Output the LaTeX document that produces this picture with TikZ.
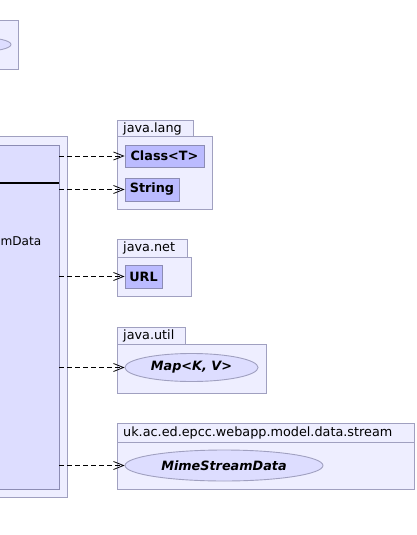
\documentclass[tikz,border=0pt]{standalone}
\usepackage{fontspec}
\setmainfont{DejaVu Sans}
\usetikzlibrary{arrows.meta,shapes.geometric}
\definecolor{pkgfill}{HTML}{EEEEFF}
\definecolor{pkgline}{HTML}{A0A0C0}
\definecolor{clsfill}{HTML}{DDDDFF}
\definecolor{extfill}{HTML}{BBBBFF}
\definecolor{clsline}{HTML}{8C8CB4}
\tikzset{
  pkgbox/.style={draw=pkgline, fill=pkgfill, line width=0.9pt},
  extcls/.style={draw=clsline, fill=extfill, line width=0.9pt, rectangle, inner sep=0pt,
    font=\fontsize{12.8}{14}\selectfont\bfseries},
  iface/.style={draw=pkgline, fill=clsfill, line width=0.9pt, ellipse, inner sep=0pt,
    font=\fontsize{12.8}{14}\selectfont\bfseries\itshape},
  pkglabel/.style={anchor=west, inner sep=0pt, font=\fontsize{12.8}{14}\selectfont},
  dep/.style={draw=black, line width=0.8pt, dash pattern=on 5pt off 3pt,
    -{Straight Barb[length=10pt,width=8pt,line width=0.8pt]}}
}
\begin{document}
\begin{tikzpicture}[x=1pt,y=-1pt]
\useasboundingbox (0,0) rectangle (417,535);
\clip (0,0) rectangle (417,535);
% top-left fragment
\path[pkgbox] (-20,20) rectangle (18,69);
\node[draw=pkgline, fill=clsfill, line width=0.9pt, ellipse, minimum width=62pt, minimum height=14pt, inner sep=0pt] (topell) at (-20,44.5) {};
% main package and class
\path[pkgbox] (-20,136) rectangle (67,497);
\node[draw=clsline, fill=clsfill, line width=0.9pt, rectangle, minimum width=79pt, minimum height=344pt, inner sep=0pt] (main) at (19.5,317) {};
\draw[line width=2pt] (-20,183) -- (main.east |- 0,183);
\node[anchor=east, inner sep=0pt, font=\fontsize{12.1}{14}\selectfont] (mainname) at (41.5,241) {mData};
% java.lang
\path[pkgbox] (117,120) rectangle (193,136);
\path[pkgbox] (117,136) rectangle (212,209);
\node[pkglabel] (lanlab) at (123,128.5) {java.lang};
\node[extcls, minimum width=79pt, minimum height=22pt] (classT) at (164.5,156) {Class<T>};
\node[extcls, minimum width=54pt, minimum height=23pt] (string) at (152,189.5) {String};
% java.net
\path[pkgbox] (117,239) rectangle (187,257);
\path[pkgbox] (117,257) rectangle (191,296);
\node[pkglabel] (netlab) at (123,248) {java.net};
\node[extcls, minimum width=37pt, minimum height=23pt] (url) at (143.5,276.5) {URL};
% java.util
\path[pkgbox] (117,327) rectangle (185,344);
\path[pkgbox] (117,344) rectangle (266,393);
\node[pkglabel] (utillab) at (123,335.5) {java.util};
\node[iface, minimum width=133pt, minimum height=28pt] (map) at (191.5,367.5) {Map<K, V>};
% stream package
\path[pkgbox] (117,423) rectangle (414,442);
\path[pkgbox] (117,442) rectangle (414,489);
\node[pkglabel] (streamlab) at (123,432.5) {uk.ac.ed.epcc.webapp.model.data.stream};
\node[iface, minimum width=198pt, minimum height=31pt] (msd) at (224,465.5) {MimeStreamData};
% dependencies
\draw[dep] (main.east |- classT.west) -- (classT.west);
\draw[dep] (main.east |- string.west) -- (string.west);
\draw[dep] (main.east |- url.west) -- (url.west);
\draw[dep] (main.east |- map.west) -- (map.west);
\draw[dep] (main.east |- msd.west) -- (msd.west);
\end{tikzpicture}
\end{document}
